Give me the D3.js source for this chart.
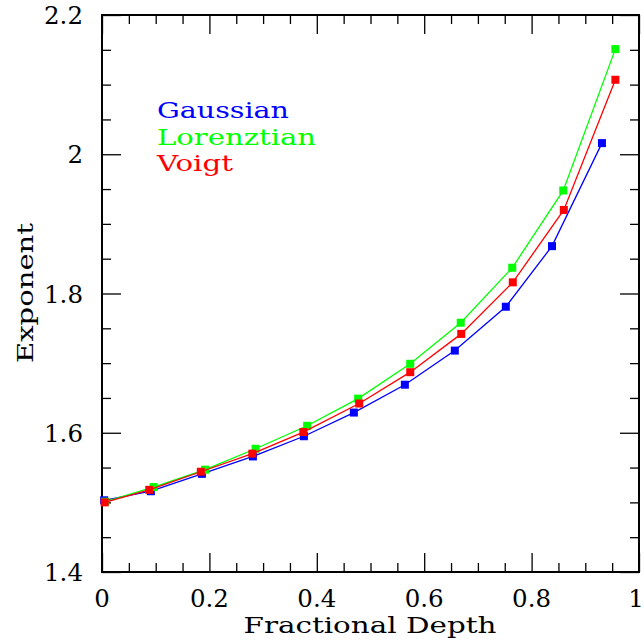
<!DOCTYPE html>
<html>
<head>
<meta charset="utf-8">
<script src="https://cdn.jsdelivr.net/npm/d3@7"></script>
<style>
  html, body { margin: 0; padding: 0; background: #fff; }
  svg { display: block; }
</style>
</head>
<body>
<script>
// ---- data ----
const seriesNames = ["Gaussian", "Lorenztian", "Voigt"];
const seriesColors = ["#0000ff", "#00ff00", "#ff0000"];

const gaussX = [0.004, 0.091, 0.186, 0.281, 0.376, 0.469, 0.564, 0.657, 0.752, 0.838, 0.931];
const gaussY = [1.503, 1.516, 1.541, 1.566, 1.595, 1.629, 1.669, 1.718, 1.781, 1.868, 2.016];

const lorX = [0.006, 0.096, 0.192, 0.286, 0.382, 0.477, 0.574, 0.668, 0.764, 0.859, 0.956];
const lorY = [1.501, 1.522, 1.547, 1.577, 1.610, 1.649, 1.699, 1.758, 1.837, 1.948, 2.151];

const voigtX = [0.005, 0.088, 0.184, 0.280, 0.375, 0.479, 0.574, 0.669, 0.765, 0.860, 0.956];
const voigtY = [1.500, 1.518, 1.544, 1.570, 1.601, 1.642, 1.687, 1.742, 1.816, 1.920, 2.107];

const xTickValues = [0, 0.2, 0.4, 0.6, 0.8, 1];
const xTickLabels = ["0", "0.2", "0.4", "0.6", "0.8", "1"];
const yTickValues = [1.4, 1.6, 1.8, 2.0, 2.2];
const yTickLabels = ["1.4", "1.6", "1.8", "2", "2.2"];

const xLabel = "Fractional Depth";
const yLabel = "Exponent";

// ---- layout ----
const W = 644, H = 640;
const L = 102, R = 639, T = 15, B = 572;
const FONT = "'DejaVu Serif', 'Liberation Serif', serif";

const svg = d3.select("body").append("svg").attr("width", W).attr("height", H);

const x = d3.scaleLinear().domain([0, 1]).range([L, R]);
const y = d3.scaleLinear().domain([1.4, 2.2]).range([B, T]);

const xMinor = d3.range(0, 1.0001, 0.05).filter(v => Math.abs(v * 5 - Math.round(v * 5)) > 1e-6);
const yMinor = d3.range(1.4, 2.2001, 0.05).filter(v => Math.abs(v * 5 - Math.round(v * 5)) > 1e-6);

function tickAxis(axisFn, scale, vals, size, transform) {
  const g = svg.append("g").attr("transform", transform)
    .call(axisFn(scale).tickValues(vals).tickSize(size).tickFormat(""));
  g.select(".domain").remove();
  g.selectAll(".tick line").attr("stroke", "#000").attr("stroke-width", 1.3);
}
// inward ticks on all four sides
tickAxis(d3.axisBottom, x, xTickValues, -19, `translate(0,${B})`);
tickAxis(d3.axisBottom, x, xMinor, -9, `translate(0,${B})`);
tickAxis(d3.axisTop, x, xTickValues, -19, `translate(0,${T})`);
tickAxis(d3.axisTop, x, xMinor, -9, `translate(0,${T})`);
tickAxis(d3.axisLeft, y, yTickValues, -19, `translate(${L},0)`);
tickAxis(d3.axisLeft, y, yMinor, -9, `translate(${L},0)`);
tickAxis(d3.axisRight, y, yTickValues, -19, `translate(${R},0)`);
tickAxis(d3.axisRight, y, yMinor, -9, `translate(${R},0)`);

// frame
svg.append("rect").attr("x", L).attr("y", T).attr("width", R - L).attr("height", B - T)
  .attr("fill", "none").attr("stroke", "#000").attr("stroke-width", 2);

// tick labels
svg.append("g").selectAll("text").data(xTickValues).join("text")
  .attr("x", d => Math.min(x(d), 636)).attr("y", 607)
  .attr("text-anchor", "middle")
  .attr("font-family", FONT).attr("font-size", 24.5).attr("fill", "#000")
  .text((d, i) => xTickLabels[i]);

svg.append("g").selectAll("text").data(yTickValues).join("text")
  .attr("x", 83).attr("y", d => y(d) + 9)
  .attr("text-anchor", "end")
  .attr("font-family", FONT).attr("font-size", 24.5).attr("fill", "#000")
  .text((d, i) => yTickLabels[i]);

// axis titles
svg.append("text").attr("x", 370).attr("y", 633).attr("text-anchor", "middle")
  .attr("font-family", FONT).attr("font-size", 23).attr("fill", "#000")
  .attr("textLength", 253).attr("lengthAdjust", "spacingAndGlyphs")
  .text(xLabel);

svg.append("text").attr("transform", "translate(33,293) rotate(-90)").attr("text-anchor", "middle")
  .attr("font-family", FONT).attr("font-size", 23).attr("fill", "#000")
  .attr("textLength", 140).attr("lengthAdjust", "spacingAndGlyphs")
  .text(yLabel);

// series
const series = [
  { xs: gaussX, ys: gaussY },
  { xs: lorX, ys: lorY },
  { xs: voigtX, ys: voigtY }
];
const line = d3.line().x(d => x(d[0])).y(d => y(d[1]));
const MS = 8;
series.forEach((s, i) => {
  const pts = s.xs.map((v, j) => [v, s.ys[j]]);
  const g = svg.append("g");
  g.append("path").datum(pts).attr("d", line)
    .attr("fill", "none").attr("stroke", seriesColors[i]).attr("stroke-width", 1.3);
  g.selectAll("rect").data(pts).join("rect")
    .attr("x", d => x(d[0]) - MS / 2).attr("y", d => y(d[1]) - MS / 2)
    .attr("width", MS).attr("height", MS).attr("fill", seriesColors[i]);
});

// legend
const legendWidths = [132, 159, 76];
svg.append("g").selectAll("text").data(seriesNames).join("text")
  .attr("x", 157).attr("y", (d, i) => 118 + i * 26.5)
  .attr("font-family", FONT).attr("font-size", 23)
  .attr("fill", (d, i) => seriesColors[i])
  .attr("textLength", (d, i) => legendWidths[i]).attr("lengthAdjust", "spacingAndGlyphs")
  .text(d => d);
</script>
</body>
</html>
